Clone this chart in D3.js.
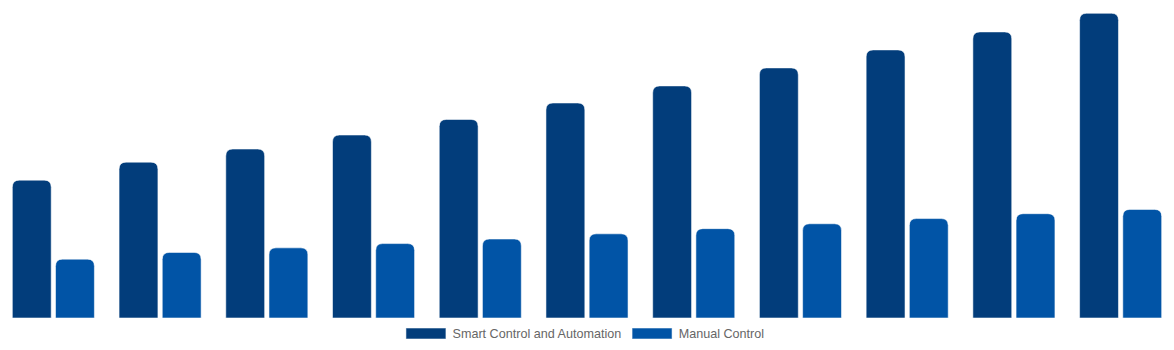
<!DOCTYPE html>
<html>
<head>
<meta charset="utf-8">
<script src="https://cdn.jsdelivr.net/npm/d3@7/dist/d3.min.js"></script>
<style>
  html, body { margin: 0; padding: 0; background: #fff; }
  svg { display: block; }
</style>
</head>
<body>
<svg id="chart" width="1174" height="350"></svg>
<script>
// Yearly comparison of the two control approaches
const categories = ["2020", "2021", "2022", "2023", "2024", "2025", "2026", "2027", "2028", "2029", "2030"];
const seriesNames = ["Smart Control and Automation", "Manual Control"];
const smartValues = [45.2, 51.1, 55.4, 60.0, 65.1, 70.5, 76.1, 82.0, 87.9, 93.8, 99.9];
const manualValues = [19.3, 21.5, 23.0, 24.4, 25.9, 27.6, 29.3, 30.9, 32.6, 34.2, 35.6];
const seriesColors = ["#023d7b", "#0154a6"];

const width = 1174, height = 350;
const baseY = 318, topY = 13;

const svg = d3.select("#chart");

const x0 = d3.scaleBand().domain(categories).range([0, width]).padding(0);
const bw = x0.bandwidth();
const x1 = d3.scaleBand()
  .domain(seriesNames)
  .range([bw * 0.1155, bw - bw * 0.1155])
  .paddingInner(0.1);

const y = d3.scaleLinear().domain([0, 100]).range([baseY, topY]);

const color = d3.scaleOrdinal().domain(seriesNames).range(seriesColors);

const rows = categories.map((c, i) => ({
  cat: c,
  vals: [
    { name: seriesNames[0], v: smartValues[i] },
    { name: seriesNames[1], v: manualValues[i] }
  ]
}));

// bar path with rounded top corners only
function topRounded(x, yTop, w, h, r) {
  r = Math.min(r, w / 2, h);
  return `M${x},${yTop + h}` +
    `V${yTop + r}` +
    `Q${x},${yTop} ${x + r},${yTop}` +
    `H${x + w - r}` +
    `Q${x + w},${yTop} ${x + w},${yTop + r}` +
    `V${yTop + h}Z`;
}

const groups = svg.append("g")
  .selectAll("g")
  .data(rows)
  .join("g")
  .attr("transform", d => `translate(${x0(d.cat)},0)`);

groups.selectAll("path")
  .data(d => d.vals)
  .join("path")
  .attr("d", d => topRounded(x1(d.name), y(d.v), x1.bandwidth(), baseY - y(d.v), 7))
  .attr("fill", d => color(d.name))
  .attr("stroke", "rgba(255,255,255,0.55)")
  .attr("stroke-width", 1);

// legend
const legend = svg.append("g");
let lx = 0;
seriesNames.forEach((name, i) => {
  const item = legend.append("g").attr("transform", `translate(${lx},0)`);
  item.append("rect")
    .attr("x", 0).attr("y", 328)
    .attr("width", 40).attr("height", 11)
    .attr("fill", color(name))
    .attr("stroke", "rgba(255,255,255,0.55)")
    .attr("stroke-width", 1);
  const t = item.append("text")
    .attr("x", 46.6).attr("y", 337.7)
    .attr("font-family", "'Liberation Sans', Arial, sans-serif")
    .attr("font-size", 12.6)
    .attr("fill", "#666")
    .text(name);
  const tw = t.node().getComputedTextLength();
  lx += 46.6 + tw + 10.8;
});
const legendW = lx - 10.8;
legend.attr("transform", `translate(${(width - legendW) / 2 - 2},0)`);
</script>
</body>
</html>
